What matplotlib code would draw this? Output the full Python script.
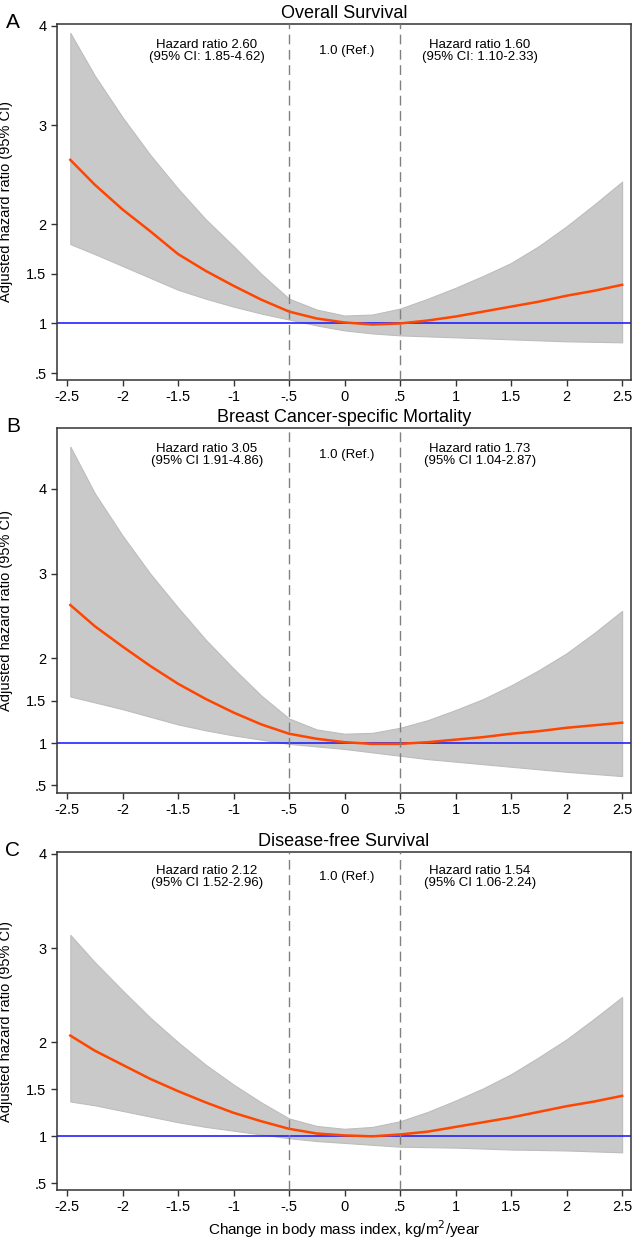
import matplotlib
matplotlib.use("Agg")
import matplotlib.pyplot as plt

plt.rcParams['font.family'] = ['Liberation Sans', 'DejaVu Sans']

# x grid shared by all three panels
bmi_change = [-2.47, -2.25, -2.0, -1.75, -1.5, -1.25, -1.0, -0.75, -0.5, -0.25, 0.0,
              0.25, 0.5, 0.75, 1.0, 1.25, 1.5, 1.75, 2.0, 2.25, 2.5]

# A: overall survival
os_hr = [2.65, 2.40, 2.15, 1.93, 1.70, 1.53, 1.38, 1.24, 1.12, 1.05, 1.01,
         0.99, 1.00, 1.03, 1.07, 1.12, 1.17, 1.22, 1.28, 1.33, 1.39]
os_upper = [3.93, 3.50, 3.08, 2.70, 2.36, 2.05, 1.78, 1.50, 1.25, 1.14, 1.08,
            1.09, 1.15, 1.25, 1.36, 1.48, 1.61, 1.78, 1.98, 2.20, 2.43]
os_lower = [1.80, 1.70, 1.58, 1.46, 1.34, 1.25, 1.17, 1.10, 1.04, 0.98, 0.93,
            0.90, 0.88, 0.87, 0.86, 0.85, 0.84, 0.83, 0.82, 0.815, 0.81]

# B: breast cancer-specific mortality
bcsm_hr = [2.63, 2.38, 2.14, 1.91, 1.70, 1.52, 1.36, 1.22, 1.11, 1.05, 1.01,
           0.99, 0.99, 1.01, 1.04, 1.07, 1.11, 1.14, 1.18, 1.21, 1.24]
bcsm_upper = [4.50, 3.95, 3.45, 3.00, 2.60, 2.22, 1.88, 1.56, 1.29, 1.16, 1.11,
              1.12, 1.18, 1.27, 1.39, 1.52, 1.68, 1.86, 2.06, 2.30, 2.56]
bcsm_lower = [1.55, 1.48, 1.40, 1.31, 1.22, 1.15, 1.09, 1.04, 0.99, 0.96, 0.93,
              0.89, 0.85, 0.81, 0.78, 0.75, 0.72, 0.69, 0.66, 0.635, 0.61]

# C: disease-free survival
dfs_hr = [2.07, 1.91, 1.76, 1.61, 1.48, 1.36, 1.25, 1.16, 1.08, 1.03, 1.01,
          1.00, 1.02, 1.05, 1.10, 1.15, 1.20, 1.26, 1.32, 1.37, 1.43]
dfs_upper = [3.14, 2.85, 2.55, 2.26, 2.00, 1.76, 1.55, 1.36, 1.19, 1.11, 1.08,
             1.10, 1.16, 1.26, 1.38, 1.51, 1.66, 1.84, 2.03, 2.25, 2.48]
dfs_lower = [1.37, 1.33, 1.27, 1.21, 1.15, 1.10, 1.06, 1.02, 0.98, 0.95, 0.93,
             0.91, 0.89, 0.885, 0.88, 0.87, 0.86, 0.855, 0.85, 0.84, 0.83]

titles = ['Overall Survival', 'Breast Cancer-specific Mortality', 'Disease-free Survival']
letters = ['A', 'B', 'C']
left_notes = ['Hazard ratio 2.60\n(95% CI: 1.85-4.62)',
              'Hazard ratio 3.05\n(95% CI 1.91-4.86)',
              'Hazard ratio 2.12\n(95% CI 1.52-2.96)']
right_notes = ['Hazard ratio 1.60\n(95% CI: 1.10-2.33)',
               'Hazard ratio 1.73\n(95% CI 1.04-2.87)',
               'Hazard ratio 1.54\n(95% CI 1.06-2.24)']

xticks = [-2.5, -2, -1.5, -1, -0.5, 0, 0.5, 1, 1.5, 2, 2.5]
xticklabels = ['-2.5', '-2', '-1.5', '-1', '-.5', '0', '.5', '1', '1.5', '2', '2.5']
yticks = [0.5, 1, 1.5, 2, 3, 4]
yticklabels = ['.5', '1', '1.5', '2', '3', '4']

W, H = 634, 1240
fig = plt.figure(figsize=(W / 100, H / 100), dpi=100)

# (top px, bottom px, ylim)
boxes = [(24, 380, (0.43, 4.02)), (428, 793, (0.41, 4.72)), (852, 1190, (0.43, 4.02))]
series = [(os_hr, os_upper, os_lower), (bcsm_hr, bcsm_upper, bcsm_lower),
          (dfs_hr, dfs_upper, dfs_lower)]

for i in range(3):
    top, bot, ylim = boxes[i]
    ax = fig.add_axes([57 / W, 1 - bot / H, (631 - 57) / W, (bot - top) / H])
    hr, up, lo = series[i]

    ax.fill_between(bmi_change, lo, up, color='#c9c9c9', edgecolor='#bdbdbd', lw=0.8, zorder=1)
    ax.axhline(1, color='#2222ff', lw=1.2, zorder=2)
    ax.plot(bmi_change, hr, color='#ff4500', lw=1.8, zorder=3)
    for xv in (-0.5, 0.5):
        ax.axvline(xv, color='#808080', lw=1.0, ls=(0, (7, 4)), zorder=4)

    ax.set_xlim(-2.59, 2.58)
    ax.set_ylim(*ylim)
    ax.set_xticks(xticks)
    ax.set_xticklabels(xticklabels)
    ax.set_yticks(yticks)
    ax.set_yticklabels(yticklabels)
    ax.tick_params(labelsize=10.5, length=4, width=1, color='#333333')
    for s in ax.spines.values():
        s.set_color('#333333')
        s.set_linewidth(1.1)

    ax.set_title(titles[i], fontsize=13, pad=4)
    ax.set_ylabel('Adjusted hazard ratio (95% CI)', fontsize=10.5)
    ax.yaxis.set_label_coords(-0.077, 0.5)

    tr = ax.get_xaxis_transform()
    ax.text(-1.24, 0.925, left_notes[i], transform=tr, ha='center', va='center',
            fontsize=9.5, linespacing=1.0)
    ax.text(0.02, 0.925, '1.0 (Ref.)', transform=tr, ha='center', va='center', fontsize=9.5)
    ax.text(1.22, 0.925, right_notes[i], transform=tr, ha='center', va='center',
            fontsize=9.5, linespacing=1.0)

    fig.text(13 / W, 1 - (top - 1) / H, letters[i], fontsize=15, ha='center', va='center')

    if i == 2:
        ax.set_xlabel('Change in body mass index, kg/m$^2$/year', fontsize=11, labelpad=3)

fig.savefig('out.png', dpi=100)
